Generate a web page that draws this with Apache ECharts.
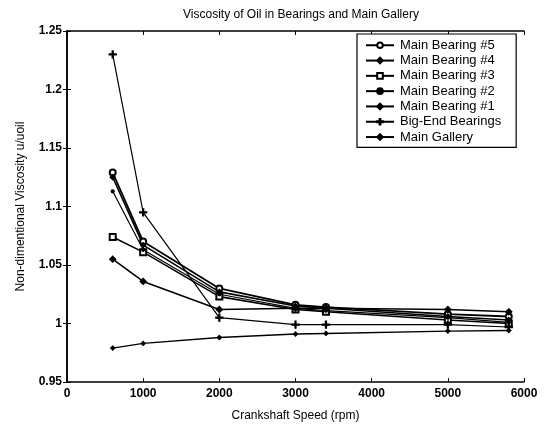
<!DOCTYPE html>
<html><head><meta charset="utf-8">
<script src="https://cdn.jsdelivr.net/npm/echarts@6/dist/echarts.min.js"></script>
<style>html,body{margin:0;padding:0;background:#fff}#c{width:545px;height:427px}</style>
</head><body><div id="c"></div>
<script>
const speeds = [600, 1000, 2000, 3000, 3400, 5000, 5800];
const mainBearing5 = [1.129, 1.070, 1.030, 1.016, 1.014, 1.008, 1.006];
const mainBearing4 = [1.125, 1.067, 1.027, 1.015, 1.013, 1.006, 1.003];
const mainBearing3 = [1.074, 1.061, 1.023, 1.012, 1.010, 1.003, 1.000];
const mainBearing2 = [1.113, 1.063, 1.025, 1.013, 1.011, 1.005, 1.001];
const mainBearing1 = [1.055, 1.036, 1.012, 1.013, 1.013, 1.012, 1.010];
const bigEnd = [1.230, 1.095, 1.005, 0.999, 0.999, 0.999, 0.997];
const mainGallery = [0.979, 0.983, 0.988, 0.991, 0.9915, 0.9935, 0.994];
const seriesNames = ['Main Bearing #5','Main Bearing #4','Main Bearing #3','Main Bearing #2','Main Bearing #1','Big-End Bearings','Main Gallery'];
const seriesData = [mainBearing5, mainBearing4, mainBearing3, mainBearing2, mainBearing1, bigEnd, mainGallery];
const plus = 'path://M4.3,0H5.7V4.3H10V5.7H5.7V10H4.3V5.7H0V4.3H4.3Z';
const symbols = [['emptyCircle',6,1.8],['diamond',5,1.6],['emptyRect',6,1.6],['circle',3,1.2],['diamond',6,1.6],[plus,7,1.2],['diamond',4,1.4]];
const font = 'Liberation Sans, Arial, sans-serif';
const chart = echarts.init(document.getElementById('c'));
const axisCommon = {
  axisLine:{show:true,lineStyle:{color:'#000',width:1.5}},
  axisTick:{show:true,inside:true,length:4,lineStyle:{color:'#000',width:1}},
  splitLine:{show:false}
};
chart.setOption({
  animation:false,
  backgroundColor:'#fff',
  title:{text:'Viscosity of Oil in Bearings and Main Gallery',left:296,top:4,textAlign:'center',
    textStyle:{fontFamily:font,fontSize:12,fontWeight:'normal',color:'#000'}},
  grid:{left:67,right:21,top:31,bottom:44},
  legend:{orient:'vertical',left:357,top:34,padding:[4,15,3,8],itemGap:0.8,itemWidth:28,itemHeight:7,
    backgroundColor:'#fff',borderColor:'#000',borderWidth:1.2,borderRadius:0,
    textStyle:{fontFamily:font,fontSize:13,color:'#000',lineHeight:14.5,padding:[0,0,0,1]},data:seriesNames},
  xAxis:[
    Object.assign({type:'value',min:0,max:6000,interval:1000,name:'Crankshaft Speed (rpm)',nameLocation:'middle',nameGap:28,
      nameTextStyle:{fontFamily:font,fontSize:12,color:'#000'},
      axisLabel:{fontFamily:font,fontSize:12,fontWeight:'bold',color:'#000',margin:6,formatter:v=>String(v)}},axisCommon),
    Object.assign({type:'value',min:0,max:6000,interval:1000,position:'top',axisLabel:{show:false}},axisCommon)
  ],
  yAxis:[
    Object.assign({type:'value',min:0.95,max:1.25,interval:0.05,name:'Non-dimentional Viscosity u/uoil',nameLocation:'middle',nameGap:40,
      nameTextStyle:{fontFamily:font,fontSize:12,color:'#000'},
      axisLabel:{fontFamily:font,fontSize:12,fontWeight:'bold',color:'#000',margin:5,
        formatter:v=>String(Math.round(v*100)/100)}},axisCommon),
    Object.assign({type:'value',min:0.95,max:1.25,interval:0.05,position:'right',axisLabel:{show:false}},axisCommon)
  ],
  series: seriesNames.map((n,i)=>({
    name:n,type:'line',xAxisIndex:0,yAxisIndex:0,
    data:speeds.map((s,j)=>[s,seriesData[i][j]]),
    symbol:symbols[i][0],symbolSize:symbols[i][1],showAllSymbol:true,
    lineStyle:{color:'#000',width:symbols[i][2]},
    itemStyle:{color:'#000',borderColor:'#000',borderWidth:1.3},
    emphasis:{disabled:true}
  }))
});
</script></body></html>
